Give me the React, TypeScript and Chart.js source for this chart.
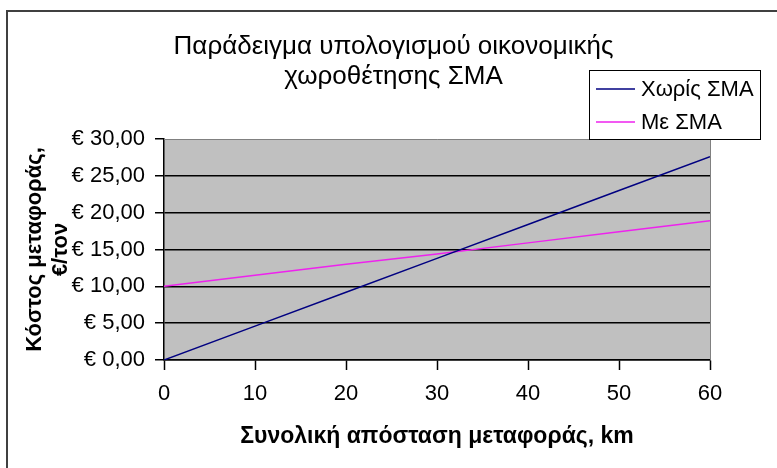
import React, { useEffect, useRef } from "react";
import { Chart, registerables } from "chart.js";

Chart.register(...registerables);

const titleLines = ["Παράδειγμα υπολογισμού οικονομικής", "χωροθέτησης ΣΜΑ"];
const xAxisTitle = "Συνολική απόσταση μεταφοράς, km";
const yAxisTitle = ["Κόστος μεταφοράς,", "€/τον"];
const distances = [0, 10, 20, 30, 40, 50, 60];
const withoutSMA = [0, 4.6, 9.2, 13.8, 18.4, 23.0, 27.6];
const withSMA = [10, 11.5, 13.0, 14.4, 15.9, 17.4, 18.9];
const seriesNames = ["Χωρίς ΣΜΑ", "Με ΣΜΑ"];
const seriesColors = ["#000080", "#ee22ee"];

const FONT = "'Liberation Sans', Arial, sans-serif";

const frame = {
  id: "frame",
  beforeDraw(chart: any) {
    const { ctx, chartArea } = chart;
    ctx.save();
    ctx.fillStyle = "#ffffff";
    ctx.fillRect(0, 0, chart.width, chart.height);
    ctx.strokeStyle = "#404040";
    ctx.lineWidth = 2;
    ctx.strokeRect(7, 11, chart.width + 10, chart.height + 10);
    ctx.fillStyle = "#c0c0c0";
    ctx.fillRect(chartArea.left, chartArea.top, chartArea.right - chartArea.left, chartArea.bottom - chartArea.top);
    ctx.restore();
  },
  beforeDatasetsDraw(chart: any) {
    const { ctx, chartArea } = chart;
    ctx.save();
    ctx.strokeStyle = "#808080";
    ctx.lineWidth = 1;
    ctx.beginPath();
    ctx.moveTo(chartArea.left, chartArea.top + 0.5);
    ctx.lineTo(chartArea.right + 0.5, chartArea.top + 0.5);
    ctx.lineTo(chartArea.right + 0.5, chartArea.bottom);
    ctx.stroke();
    ctx.restore();
  },
  afterDraw(chart: any) {
    const { ctx } = chart;
    const bx = 589, by = 70, bw = 171, bh = 69;
    ctx.save();
    ctx.fillStyle = "#ffffff";
    ctx.fillRect(bx, by, bw, bh);
    ctx.strokeStyle = "#000000";
    ctx.lineWidth = 1;
    ctx.strokeRect(bx + 0.5, by + 0.5, bw, bh);
    const rows = [89, 122];
    chart.data.datasets.forEach((ds: any, i: number) => {
      const y = rows[i];
      ctx.strokeStyle = ds.borderColor;
      ctx.lineWidth = 1.5;
      ctx.beginPath();
      ctx.moveTo(596, y);
      ctx.lineTo(635, y);
      ctx.stroke();
      ctx.fillStyle = "#000000";
      ctx.font = `22px ${FONT}`;
      ctx.textBaseline = "middle";
      ctx.textAlign = "left";
      ctx.fillText(ds.label, 641, y + 1);
    });
    ctx.restore();
  },
};

export default function App() {
  const ref = useRef<HTMLCanvasElement>(null);
  useEffect(() => {
    if (!ref.current) return;
    Chart.defaults.font.family = FONT;
    const chart = new Chart(ref.current, {
      type: "line",
      data: {
        datasets: [
          {
            label: seriesNames[0],
            data: distances.map((d, i) => ({ x: d, y: withoutSMA[i] })),
            borderColor: seriesColors[0],
            borderWidth: 1.5,
            pointRadius: 0,
            tension: 0,
          },
          {
            label: seriesNames[1],
            data: distances.map((d, i) => ({ x: d, y: withSMA[i] })),
            borderColor: seriesColors[1],
            borderWidth: 1.5,
            pointRadius: 0,
            tension: 0,
          },
        ],
      },
      options: {
        animation: false,
        responsive: false,
        layout: { padding: { left: 10, right: 0, top: 0, bottom: 0 } },
        plugins: {
          legend: { display: false },
          tooltip: { enabled: false },
          title: {
            display: true,
            text: titleLines,
            color: "#000",
            font: { size: 26, weight: "normal", family: FONT, lineHeight: 30 / 26 },
            padding: { top: 32, bottom: 47 },
          },
        },
        scales: {
          x: {
            type: "linear",
            min: 0,
            max: 60,
            afterFit: (s: any) => { s.height = 108; },
            ticks: { stepSize: 10, color: "#000", font: { size: 22 }, padding: 11, maxRotation: 0 },
            grid: { drawOnChartArea: false, drawTicks: true, tickLength: 10, tickColor: "#000", tickWidth: 1.5 },
            border: { color: "#000", width: 1.5 },
            title: {
              display: true,
              text: xAxisTitle,
              color: "#000",
              font: { size: 23, weight: "bold" },
              padding: { top: 0, bottom: 18 },
            },
          },
          y: {
            min: 0,
            max: 30,
            afterFit: (s: any) => { s.width = 154; },
            ticks: {
              stepSize: 5,
              color: "#000",
              font: { size: 22 },
              padding: 10,
              callback: (v: any) => "€ " + Number(v).toFixed(2).replace(".", ","),
            },
            grid: {
              color: (c: any) => (c.tick && c.tick.value === 30 ? "rgba(0,0,0,0)" : "#000"),
              lineWidth: 1.5,
              tickLength: 9,
              tickColor: "#000",
              tickWidth: 1.5,
            },
            border: { color: "#000", width: 1.5 },
            title: {
              display: true,
              text: yAxisTitle,
              color: "#000",
              font: { size: 22, weight: "bold", lineHeight: 26 / 22 },
              padding: { top: 12, bottom: 0 },
            },
          },
          spacer: {
            type: "linear",
            position: "right",
            display: true,
            afterFit: (s: any) => { s.width = 67; },
            ticks: { display: false },
            grid: { display: false },
            border: { display: false },
          },
        },
      },
      plugins: [frame],
    });
    return () => chart.destroy();
  }, []);
  return (
    <div style={{ position: "fixed", left: 0, top: 0, width: 777, height: 468 }}>
      <canvas ref={ref} width={777} height={468} style={{ width: 777, height: 468 }} />
    </div>
  );
}
